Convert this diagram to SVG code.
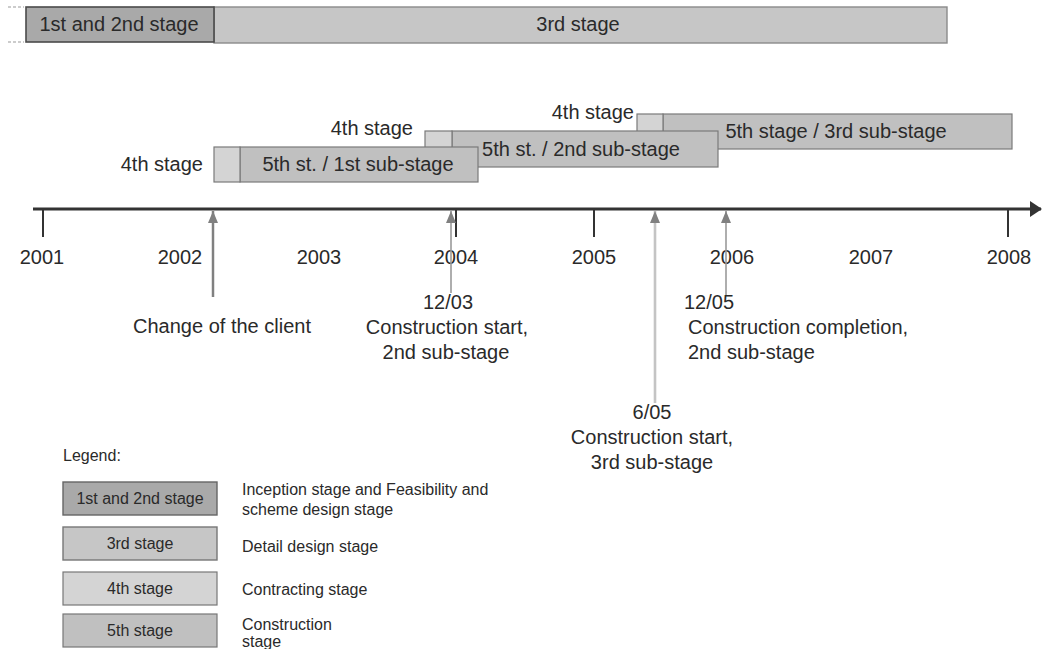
<svg xmlns="http://www.w3.org/2000/svg" width="1042" height="649" viewBox="0 0 1042 649">
<style>
  text { font-family: "Liberation Sans", Arial, sans-serif; fill: #2a2a2a; }
  .t20 { font-size: 20px; }
  .t16 { font-size: 16px; }
  .mid { text-anchor: middle; }
  .end { text-anchor: end; }
  .s12 { fill: #a9a9a9; stroke: #4a4a4a; stroke-width: 1.6; }
  .s3 { fill: #c6c6c6; stroke: #8a8a8a; stroke-width: 1.4; }
  .s4 { fill: #d4d4d4; stroke: #7a7a7a; stroke-width: 1.2; }
  .s5 { fill: #c0c0c0; stroke: #7a7a7a; stroke-width: 1.2; }
  .tick { stroke: #333; stroke-width: 2; }
</style>
<defs>
  <marker id="axisHead" viewBox="0 0 12 16" refX="11" refY="8" markerWidth="12" markerHeight="16" markerUnits="userSpaceOnUse" orient="auto">
    <path d="M0,0 L12,8 L0,16 Z" fill="#333"/>
  </marker>
  <marker id="evHead" viewBox="0 0 12 10" refX="12" refY="5" markerWidth="12" markerHeight="10" markerUnits="userSpaceOnUse" orient="auto">
    <path d="M12,5 L0,0 L0,10 Z" fill="#808080"/>
  </marker>
</defs>

<!-- top bar -->
<g id="top-dashes">
  <line x1="8" y1="7" x2="24" y2="7" stroke="#999" stroke-width="1.2" stroke-dasharray="3,2"/>
  <line x1="8" y1="42" x2="24" y2="42" stroke="#999" stroke-width="1.2" stroke-dasharray="3,2"/>
</g>
<g id="stage3-top">
  <rect class="s3" x="214" y="7" width="733" height="36"/>
  <text class="t20 mid" x="578" y="31">3rd stage</text>
</g>
<g id="stage12-top">
  <rect class="s12" x="26" y="7" width="188" height="35"/>
  <text class="t20 mid" x="119" y="31">1st and 2nd stage</text>
</g>

<!-- sub-stage bars -->
<g id="sub3">
  <rect class="s5" x="663" y="114" width="349" height="35"/>
  <text class="t20 mid" x="836" y="138">5th stage / 3rd sub-stage</text>
</g>
<g id="stage4-c">
  <rect class="s4" x="637" y="114" width="26" height="35"/>
  <text class="t20 end" x="634" y="119">4th stage</text>
</g>
<g id="sub2">
  <rect class="s5" x="452" y="131" width="266" height="36"/>
  <text class="t20 mid" x="581" y="156">5th st. / 2nd sub-stage</text>
</g>
<g id="stage4-b">
  <rect class="s4" x="425" y="131" width="27" height="35"/>
  <text class="t20 end" x="413" y="135">4th stage</text>
</g>
<g id="sub1">
  <rect class="s5" x="240" y="147" width="238" height="35"/>
  <text class="t20 mid" x="358" y="171">5th st. / 1st sub-stage</text>
</g>
<g id="stage4-a">
  <rect class="s4" x="214" y="147" width="26" height="35"/>
  <text class="t20 end" x="203" y="171">4th stage</text>
</g>

<!-- timeline axis -->
<g id="axis">
  <line x1="33" y1="209" x2="1041" y2="209" stroke="#333" stroke-width="3" marker-end="url(#axisHead)"/>
  <line class="tick" x1="43" y1="209" x2="43" y2="237"/>
  <line class="tick" x1="456" y1="209" x2="456" y2="237"/>
  <line class="tick" x1="594" y1="209" x2="594" y2="237"/>
  <line class="tick" x1="1008" y1="209" x2="1008" y2="237"/>
  <text class="t20 mid" x="42" y="264">2001</text>
  <text class="t20 mid" x="180" y="264">2002</text>
  <text class="t20 mid" x="319" y="264">2003</text>
  <text class="t20 mid" x="456" y="264">2004</text>
  <text class="t20 mid" x="594" y="264">2005</text>
  <text class="t20 mid" x="732" y="264">2006</text>
  <text class="t20 mid" x="871" y="264">2007</text>
  <text class="t20 mid" x="1009" y="264">2008</text>
</g>

<!-- event connectors -->
<g id="connectors">
  <line x1="213" y1="297" x2="213" y2="211" stroke="#808080" stroke-width="2.5" marker-end="url(#evHead)"/>
  <line x1="451" y1="293" x2="451" y2="211" stroke="#9a9a9a" stroke-width="1.6" marker-end="url(#evHead)"/>
  <line x1="655" y1="403" x2="655" y2="211" stroke="#c4c4c4" stroke-width="2.6" marker-end="url(#evHead)"/>
  <line x1="726" y1="296" x2="726" y2="211" stroke="#9a9a9a" stroke-width="1.6" marker-end="url(#evHead)"/>
</g>

<!-- event labels -->
<g id="ev-client">
  <text class="t20 mid" x="222" y="333">Change of the client</text>
</g>
<g id="ev-1203">
  <text class="t20 mid" x="448" y="309">12/03</text>
  <text class="t20 mid" x="447" y="334">Construction start,</text>
  <text class="t20 mid" x="446" y="359">2nd sub-stage</text>
</g>
<g id="ev-1205">
  <text class="t20" x="684" y="309">12/05</text>
  <text class="t20" x="688" y="334">Construction completion,</text>
  <text class="t20" x="688" y="359">2nd sub-stage</text>
</g>
<g id="ev-0605">
  <text class="t20 mid" x="652" y="419">6/05</text>
  <text class="t20 mid" x="652" y="444">Construction start,</text>
  <text class="t20 mid" x="652" y="469">3rd sub-stage</text>
</g>

<!-- legend -->
<g id="legend-title">
  <text class="t16" x="63" y="461">Legend:</text>
</g>
<g id="legend-12">
  <rect class="s12" x="63" y="482" width="154" height="33" style="stroke:#666;stroke-width:1.4"/>
  <text class="t16 mid" x="140" y="504">1st and 2nd stage</text>
  <text class="t16" x="242" y="495">Inception stage and Feasibility and</text>
  <text class="t16" x="242" y="515">scheme design stage</text>
</g>
<g id="legend-3">
  <rect class="s3" x="63" y="527" width="154" height="33" style="stroke:#777"/>
  <text class="t16 mid" x="140" y="549">3rd stage</text>
  <text class="t16" x="242" y="552">Detail design stage</text>
</g>
<g id="legend-4">
  <rect class="s4" x="63" y="572" width="154" height="33" style="stroke:#777"/>
  <text class="t16 mid" x="140" y="594">4th stage</text>
  <text class="t16" x="242" y="595">Contracting stage</text>
</g>
<g id="legend-5">
  <rect class="s5" x="63" y="614" width="154" height="33" style="stroke:#777"/>
  <text class="t16 mid" x="140" y="636">5th stage</text>
  <text class="t16" x="242" y="630">Construction</text>
  <text class="t16" x="242" y="647">stage</text>
</g>
</svg>
